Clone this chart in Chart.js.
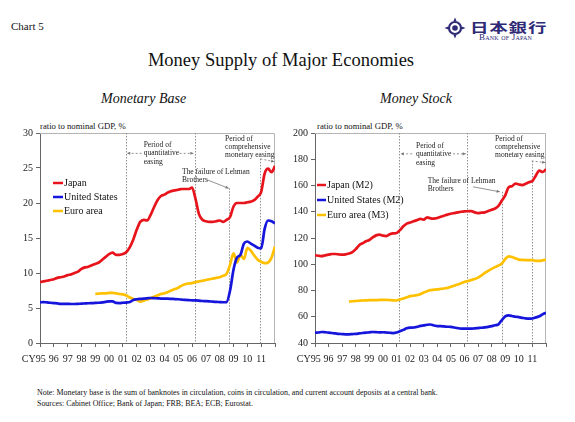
<!DOCTYPE html>
<html>
<head>
<meta charset="utf-8">
<script src="https://cdn.jsdelivr.net/npm/chart.js@4.4.1/dist/chart.umd.min.js"></script>
<style>
  body { margin: 0; width: 575px; height: 422px; position: relative; overflow: hidden; background: #fff;
         font-family: "Liberation Serif", "Times New Roman", serif; color: #111; }
  .t { position: absolute; white-space: nowrap; line-height: 1; }
  .box { position: absolute; }
</style>
</head>
<body>
<div class="t" style="left:11px;top:21px;font-size:11px">Chart 5</div>

<!-- Bank of Japan mark -->
<svg class="box" style="left:444px;top:17px" width="22" height="22" viewBox="0 0 22 22">
  <circle cx="11" cy="11" r="6" fill="none" stroke="#2e2a76" stroke-width="2.2"/>
  <circle cx="11" cy="11" r="2.8" fill="#2e2a76"/>
  <path d="M11 0.5 L12.6 4.2 L9.4 4.2 Z M11 21.5 L12.6 17.8 L9.4 17.8 Z M0.5 11 L4.2 9.4 L4.2 12.6 Z M21.5 11 L17.8 9.4 L17.8 12.6 Z" fill="#2e2a76"/>
</svg>
<div class="t" style="left:470px;top:20px;font-size:13px;letter-spacing:0.6px;font-family:'Noto Sans CJK JP';font-weight:700;color:#2e2a76;transform:scaleX(1.42);transform-origin:0 0">日本銀行</div>
<div class="t" style="left:479px;top:33px;font-size:9px;letter-spacing:0.2px;font-variant:small-caps;color:#2e2a76">Bank of Japan</div>

<div class="t" style="left:0;width:562px;top:51px;text-align:center;font-size:18.5px">Money Supply of Major Economies</div>
<div class="t" style="left:101px;top:92px;font-size:14px;font-style:italic">Monetary Base</div>
<div class="t" style="left:380px;top:92px;font-size:14px;font-style:italic">Money Stock</div>
<div class="t" style="left:40px;top:122px;font-size:8.7px">ratio to nominal GDP, %</div>
<div class="t" style="left:317px;top:122px;font-size:8.7px">ratio to nominal GDP, %</div>

<div class="box" style="left:0;top:120px;width:287px;height:248px"><canvas id="base"></canvas></div>
<div class="box" style="left:287px;top:120px;width:288px;height:248px"><canvas id="stock"></canvas></div>

<div class="t" style="left:37px;top:389px;font-size:7.9px">Note: Monetary base is the sum of banknotes in circulation, coins in circulation, and current account deposits at a central bank.</div>
<div class="t" style="left:37px;top:400px;font-size:7.9px">Sources: Cabinet Office; Bank of Japan; FRB; BEA; ECB; Eurostat.</div>

<script>
// quarterly readings, 1995 Q1 .. end of 2011 (last point = end 2011)
var startYear = 1995;
var yearLabels = ['CY95', '96', '97', '98', '99', '00', '01', '02', '03', '04', '05', '06', '07', '08', '09', '10', '11'];

// Monetary base, ratio to nominal GDP (%)
var baseJapan = [
  8.7, 8.8, 8.9, 9.0,   9.1, 9.3, 9.4, 9.5,   9.7, 9.8, 10.0, 10.2,  10.6, 10.8, 10.9, 11.1,
  11.3, 11.5, 11.9, 12.3,  12.7, 12.9, 12.6, 12.6,  12.7, 13.0, 13.7, 14.8,  16.2, 17.3, 17.6, 17.5,
  18.3, 19.4, 20.4, 21.0,  21.2, 21.5, 21.7, 21.8,  21.9, 22.0, 22.0, 22.0,  22.2, 20.6, 18.4, 17.6,
  17.4, 17.3, 17.3, 17.4,  17.5, 17.3, 17.6, 18.0,  19.5, 20.0, 20.0, 20.0,  20.1, 20.2, 20.4, 20.9,
  21.6, 24.2, 24.9, 24.4,  25.3
];
var baseUS = [
  5.8, 5.85, 5.8, 5.75,  5.7, 5.65, 5.6, 5.6,  5.6, 5.57, 5.57, 5.6,  5.62, 5.65, 5.68, 5.7,
  5.72, 5.75, 5.8, 5.88,  5.95, 5.95, 5.72, 5.7,  5.75, 5.78, 5.85, 6.15,  6.25, 6.3, 6.33, 6.38,
  6.43, 6.4, 6.38, 6.35,  6.33, 6.33, 6.3, 6.28,  6.25, 6.2, 6.15, 6.12,  6.1, 6.08, 6.05, 6.0,
  5.98, 5.95, 5.9, 5.88,  5.85, 5.82, 5.85, 7.5,  10.5, 12.2, 12.6, 14.2,  14.5, 14.2, 13.9, 13.6,
  13.5, 16.3, 17.5, 17.4,  17.1
];
var baseEuro = [
  null, null, null, null,  null, null, null, null,  null, null, null, null,  null, null, null, null,
  7.0, 7.05, 7.1, 7.1,  7.15, 7.15, 7.1, 7.0,  6.95, 6.8, 6.5, 6.3,  6.15, 5.9, 6.05, 6.2,
  6.4, 6.6, 6.8, 7.0,  7.1, 7.3, 7.5, 7.7,  7.9, 8.2, 8.4, 8.5,  8.55, 8.7, 8.8, 8.9,
  9.0, 9.1, 9.2, 9.3,  9.4, 9.6, 9.9, 11.2,  12.8, 11.5, 12.6, 12.0,  13.6, 13.2, 12.5, 11.9,
  11.6, 11.4, 11.5, 12.2,  13.8
];

// Money stock, ratio to nominal GDP (%)
var stockJapan = [
  106.8, 106.5, 106.2, 106.8,  107.3, 107.8, 107.8, 107.5,  107.3, 107.5, 108.2, 109.2,  111.5, 114.5, 116.0, 117.5,
  118.5, 120.5, 122.0, 122.5,  121.8, 121.5, 122.8, 123.5,  123.8, 126.0, 128.9, 131.0,  131.8, 132.7, 133.6, 134.5,
  134.0, 135.7, 135.0, 134.8,  135.2, 136.2, 137.0, 137.8,  138.5, 139.0, 139.5, 140.0,  140.3, 140.4, 140.5, 139.5,
  139.0, 139.3, 139.5, 140.5,  141.5, 142.5, 144.5, 148.5,  152.5, 158.7, 159.5, 161.5,  160.8, 160.3, 161.3, 162.5,
  163.5, 167.5, 171.4, 170.3,  172.4
];
var stockUS = [
  47.8, 48.0, 48.4, 48.2,  47.9, 47.6, 47.3, 47.0,  46.8, 46.6, 46.6, 46.8,  47.0, 47.3, 47.6, 47.9,
  48.1, 48.4, 48.3, 48.1,  48.2, 48.0, 47.8, 47.6,  48.0, 49.0, 50.0, 51.2,  51.7, 51.8, 52.3, 53.0,
  53.4, 53.9, 54.1, 53.3,  52.9, 52.8, 52.6, 52.4,  52.3, 51.8, 51.3, 51.0,  51.0, 50.9, 50.9, 51.2,
  51.4, 51.6, 51.9, 52.3,  52.9, 53.5, 54.2, 57.5,  60.2, 61.0, 60.6, 60.0,  59.7, 59.2, 58.7, 58.5,
  58.7, 59.5, 60.3, 61.8,  63.0
];
var stockEuro = [
  null, null, null, null,  null, null, null, null,  null, null, 71.5, 71.8,  72.0, 72.2, 72.4, 72.5,
  72.6, 72.6, 72.7, 72.8,  72.8, 72.9, 72.7, 72.5,  72.4, 73.2, 73.9, 74.8,  75.7, 76.0, 76.5, 77.2,
  78.5, 79.5, 80.3, 80.6,  80.8, 81.2, 81.5, 82.0,  82.9, 83.7, 84.5, 85.5,  86.5, 87.2, 88.0, 88.8,
  89.8, 91.5, 93.5, 95.0,  96.5, 97.8, 99.0, 100.5,  104.0, 106.0, 105.5, 104.5,  103.5, 103.3, 103.2, 103.2,
  103.2, 102.6, 102.5, 103.0,  103.5
];

var RED = '#e8141c', BLUE = '#1515dc', GOLD = '#ffc000';

function pts(values) {
  return values.map(function (v, i) { return { x: startYear + i / 4, y: v }; });
}

// light frame on top / right of the plot area
var framePlugin = {
  id: 'frame',
  beforeDatasetsDraw: function (chart) {
    var a = chart.chartArea, ctx = chart.ctx;
    ctx.save();
    ctx.strokeStyle = '#b4b4b4';
    ctx.lineWidth = 1;
    ctx.beginPath();
    ctx.moveTo(a.left, a.top + 0.5);
    ctx.lineTo(a.right - 0.5, a.top + 0.5);
    ctx.lineTo(a.right - 0.5, a.bottom);
    ctx.stroke();
    ctx.restore();
  }
};

function arrowHead(ctx, x1, y1, x2, y2) {
  var ang = Math.atan2(y2 - y1, x2 - x1), s = 3.5;
  ctx.beginPath();
  ctx.moveTo(x2, y2);
  ctx.lineTo(x2 - s * Math.cos(ang - 0.45), y2 - s * Math.sin(ang - 0.45));
  ctx.lineTo(x2 - s * Math.cos(ang + 0.45), y2 - s * Math.sin(ang + 0.45));
  ctx.closePath();
  ctx.fill();
}

// policy-period markers, arrows and captions
var notesPlugin = {
  id: 'notes',
  beforeDatasetsDraw: function (chart, args, o) {
    var ctx = chart.ctx, a = chart.chartArea, x = chart.scales.x, y = chart.scales.y;
    ctx.save();
    ctx.strokeStyle = '#909090';
    ctx.lineWidth = 1;
    ctx.setLineDash([1.5, 1.5]);
    o.vlines.forEach(function (v) {
      var px = Math.round(x.getPixelForValue(v.x)) + 0.5;
      var top = v.from == null ? a.top : y.getPixelForValue(v.from);
      ctx.beginPath();
      ctx.moveTo(px, top);
      ctx.lineTo(px, a.bottom);
      ctx.stroke();
    });
    ctx.restore();
  },
  afterDatasetsDraw: function (chart, args, o) {
    var ctx = chart.ctx, x = chart.scales.x, y = chart.scales.y;
    ctx.save();
    ctx.strokeStyle = '#777';
    ctx.fillStyle = '#777';
    ctx.lineWidth = 0.8;
    o.arrows.forEach(function (r) {
      var x1 = x.getPixelForValue(r.x1), y1 = y.getPixelForValue(r.y1);
      var x2 = x.getPixelForValue(r.x2), y2 = y.getPixelForValue(r.y2);
      ctx.setLineDash(r.dash ? [2, 2] : []);
      ctx.beginPath();
      ctx.moveTo(x1, y1);
      ctx.lineTo(x2, y2);
      ctx.stroke();
      ctx.setLineDash([]);
      arrowHead(ctx, x1, y1, x2, y2);
    });
    ctx.fillStyle = '#222';
    ctx.font = '7.5px "Liberation Serif"';
    ctx.textBaseline = 'middle';
    ctx.textAlign = 'left';
    o.texts.forEach(function (t) {
      var px = x.getPixelForValue(t.x), py = y.getPixelForValue(t.y);
      t.lines.forEach(function (line, i) { ctx.fillText(line, px, py + i * t.lh); });
    });
    ctx.restore();
  }
};

// legend placed inside the plot
var keyPlugin = {
  id: 'key',
  afterDatasetsDraw: function (chart, args, o) {
    var ctx = chart.ctx, a = chart.chartArea;
    ctx.save();
    ctx.font = '10px "Liberation Serif"';
    ctx.textBaseline = 'middle';
    ctx.fillStyle = '#111';
    chart.data.datasets.forEach(function (ds, i) {
      var lx = a.left + o.dx, ly = a.top + o.dy + i * o.gap;
      ctx.strokeStyle = ds.borderColor;
      ctx.lineWidth = 2.5;
      ctx.beginPath();
      ctx.moveTo(lx, ly);
      ctx.lineTo(lx + o.len, ly);
      ctx.stroke();
      ctx.fillText(ds.label, lx + o.len + 1, ly + 0.5);
    });
    ctx.restore();
  }
};

Chart.defaults.font.family = '"Liberation Serif", "Times New Roman", serif';
Chart.defaults.color = '#222';

function makeChart(id, labels, series, yMin, yMax, yStep, yWidth, padRight, notes, key) {
  var colors = [RED, BLUE, GOLD];
  return new Chart(document.getElementById(id), {
    type: 'line',
    data: {
      datasets: series.map(function (s, i) {
        return {
          label: labels[i],
          data: pts(s),
          borderColor: colors[i],
          backgroundColor: colors[i],
          borderWidth: 2.7,
          pointRadius: 0,
          tension: 0.3,
          cubicInterpolationMode: 'monotone',
          spanGaps: false
        };
      })
    },
    options: {
      responsive: true,
      maintainAspectRatio: false,
      animation: false,
      layout: { padding: { left: 0, top: 13, right: padRight, bottom: 0 } },
      plugins: {
        legend: { display: false },
        tooltip: { enabled: false },
        notes: notes,
        key: key
      },
      scales: {
        x: {
          type: 'linear',
          min: 1995,
          max: 2012,
          afterFit: function (s) { s.height = 25; },
          border: { color: '#666', width: 1 },
          grid: { drawOnChartArea: false, tickLength: 4, color: '#666' },
          ticks: {
            stepSize: 1,
            autoSkip: false,
            maxRotation: 0,
            padding: 6,
            font: { size: 10 },
            callback: function (v) {
              var i = Math.round(v) - startYear;
              // pad the first label so that the year digits sit on the tick and "CY" hangs to the left
              return i === 0 ? yearLabels[0] + '     ' : (yearLabels[i] || '');
            }
          }
        },
        y: {
          min: yMin,
          max: yMax,
          afterFit: function (s) { s.width = yWidth; },
          border: { color: '#666', width: 1 },
          grid: { drawOnChartArea: false, tickLength: 4, color: '#666' },
          ticks: { stepSize: yStep, padding: 3, font: { size: 10 } }
        }
      }
    },
    plugins: [framePlugin, notesPlugin, keyPlugin]
  });
}

makeChart('base', ['Japan', 'United States', 'Euro area'], [baseJapan, baseUS, baseEuro],
  0, 30, 5, 40, 12,
  {
    vlines: [{ x: 2001.2 }, { x: 2006.2 }, { x: 2008.7, from: 22.1 }, { x: 2010.95, from: 26.3 }],
    arrows: [
      { x1: 2002.35, y1: 27.1, x2: 2001.3, y2: 27.1, dash: true },
      { x1: 2005.1, y1: 27.1, x2: 2006.1, y2: 27.1, dash: true },
      { x1: 2010.95, y1: 26.3, x2: 2011.95, y2: 25.9, dash: true },
      { x1: 2007.1, y1: 23.3, x2: 2008.65, y2: 22.1, dash: false }
    ],
    texts: [
      { x: 2002.5, y: 28.3, lh: 8.5, lines: ['Period of', 'quantitative', 'easing'] },
      { x: 2008.39, y: 29.1, lh: 8, lines: ['Period of', 'comprehensive', 'monetary easing'] },
      { x: 2005.27, y: 24.4, lh: 8, lines: ['The failure of Lehman', 'Brothers'] }
    ]
  },
  { dx: 13, dy: 50, gap: 14, len: 10 });

makeChart('stock', ['Japan (M2)', 'United States (M2)', 'Euro area (M3)'], [stockJapan, stockUS, stockEuro],
  40, 200, 20, 28, 29,
  {
    vlines: [{ x: 2001.2 }, { x: 2006.2 }, { x: 2008.75, from: 155.2 }, { x: 2010.95, from: 178.7 }],
    arrows: [
      { x1: 2002.15, y1: 184.1, x2: 2001.3, y2: 184.1, dash: true },
      { x1: 2005.15, y1: 184.1, x2: 2006.1, y2: 184.1, dash: true },
      { x1: 2010.95, y1: 178.7, x2: 2011.95, y2: 177.5, dash: true },
      { x1: 2006.63, y1: 159, x2: 2008.6, y2: 155.2, dash: false }
    ],
    texts: [
      { x: 2002.43, y: 190.1, lh: 8.5, lines: ['Period of', 'quantitative', 'easing'] },
      { x: 2008.25, y: 195.4, lh: 8, lines: ['Period of', 'comprehensive', 'monetary easing'] },
      { x: 2003.3, y: 163.6, lh: 8.5, lines: ['The failure of Lehman', 'Brothers'] }
    ]
  },
  { dx: 2, dy: 52, gap: 15, len: 9 });
</script>
</body>
</html>
